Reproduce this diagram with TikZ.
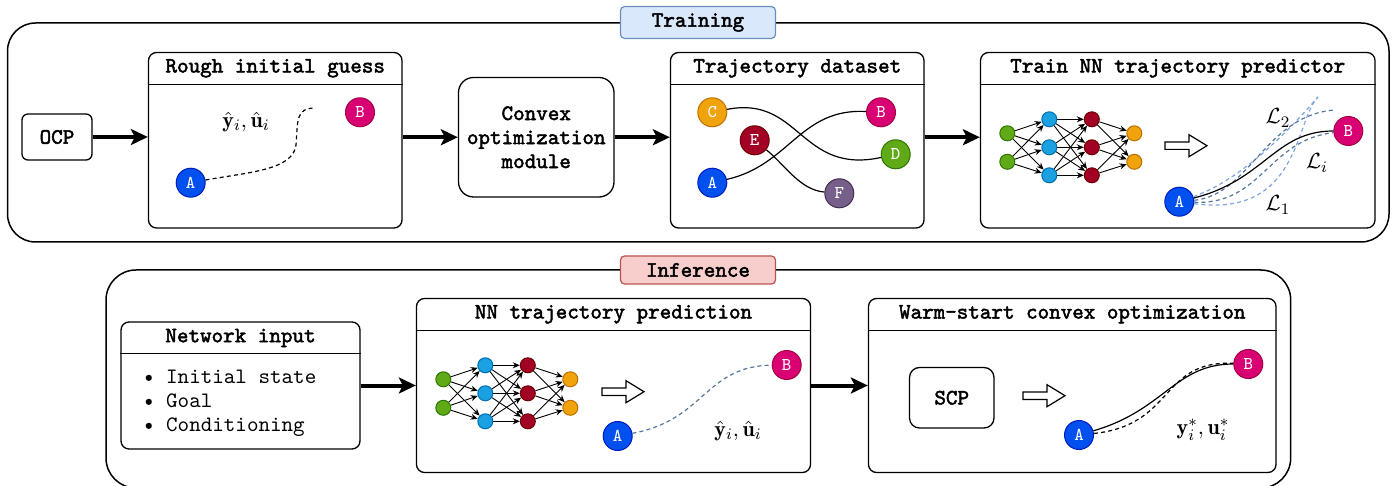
\documentclass[tikz,border=0pt]{standalone}
\usepackage{fontspec}
\setmonofont{Latin Modern Mono}[AutoFakeBold=2.2]
\usetikzlibrary{arrows.meta,fit,positioning}

\definecolor{blueA}{HTML}{0050EF}   \definecolor{blueAd}{HTML}{001DBC}
\definecolor{pinkB}{HTML}{D80073}   \definecolor{pinkBd}{HTML}{A50040}
\definecolor{orangeC}{HTML}{F0A30A} \definecolor{orangeCd}{HTML}{BD7000}
\definecolor{greenD}{HTML}{60A917}  \definecolor{greenDd}{HTML}{2D7600}
\definecolor{redE}{HTML}{A20025}    \definecolor{redEd}{HTML}{6F0000}
\definecolor{purpleF}{HTML}{76608A} \definecolor{purpleFd}{HTML}{432D57}
\definecolor{nnblue}{HTML}{1BA1E2}  \definecolor{nnblued}{HTML}{006EAF}
\definecolor{trainfill}{HTML}{DAE8FC} \definecolor{traindraw}{HTML}{6C8EBF}
\definecolor{inffill}{HTML}{F8CECC}   \definecolor{infdraw}{HTML}{B85450}
\definecolor{darkdash}{HTML}{56759A}  \definecolor{lightdash}{HTML}{7EA6E0}

% small fully connected network, first input node at the origin
\newcommand{\drawnet}[1]{%
  \foreach \j in {1,2} {
    \node[nn, fill=greenD, draw=greenDd] (#1g\j) at (0,{(\j-1)*28.5}) {};
    \node[nn, fill=orangeC, draw=orangeCd] (#1o\j) at (127,{(\j-1)*28.5}) {};
  }
  \foreach \j in {1,2,3} {
    \node[nn, fill=nnblue, draw=nnblued] (#1b\j) at (42,{(\j-1)*28-14}) {};
    \node[nn, fill=redE, draw=redEd] (#1r\j) at (84.5,{(\j-1)*28-14}) {};
  }
  \foreach \a in {1,2} \foreach \b in {1,2,3} {
    \draw[nnarrow] (#1g\a) -- (#1b\b);
    \draw[nnarrow] (#1r\b) -- (#1o\a);
  }
  \foreach \a in {1,2,3} \foreach \b in {1,2,3}
    \draw[nnarrow] (#1b\a) -- (#1r\b);
}

\begin{document}
\begin{tikzpicture}[x=0.5pt,y=-0.5pt,
    every node/.style={font=\ttfamily\fontsize{11}{12}\selectfont},
    title/.style={font=\ttfamily\bfseries\fontsize{11}{12}\selectfont},
    outer/.style={draw, line width=0.75pt, rounded corners=14pt},
    panel/.style={draw, line width=0.65pt, rounded corners=4pt, inner sep=0pt},
    smallbox/.style={panel, title, align=center},
    tag/.style={draw, rounded corners=2pt, line width=0.6pt, minimum width=77.5pt, minimum height=14pt, title},
    bigarrow/.style={line width=2pt, -{Stealth[length=8.5pt,width=8pt,inset=2pt]}},
    pt/.style={circle, draw, line width=0.5pt, minimum size=14.5pt, inner sep=0pt, text=white, font=\ttfamily\fontsize{9}{9}\selectfont},
    nn/.style={circle, draw, line width=0.5pt, minimum size=7.5pt, inner sep=0pt},
    nnarrow/.style={line width=0.45pt, -{Stealth[length=3.5pt,width=3pt]}},
    traj/.style={line width=0.6pt},
    dashtraj/.style={line width=0.6pt, dash pattern=on 2pt off 1.6pt}]

  \useasboundingbox (0,0) rectangle (1398,486);
  \clip (0,0) rectangle (1398,486);

  % ---------------- training ----------------
  \draw[outer] (7.5,23) rectangle (1389,242);
  \node[tag, fill=trainfill, draw=traindraw] (trainingtag) at (698,22.5) {Training};

  \node[smallbox, rounded corners=3pt, fit={(22,114) (92,160)}] (ocp) {};
  \node[title] at (ocp) {OCP};
  \node[panel, fit={(148.5,52.5) (402,228)}] (rough) {};
  \node[smallbox, rounded corners=7.5pt, fit={(458.5,77.5) (614,197)}] (convex) {};
  \node[title, align=center] at (convex) {Convex\\optimization\\module};
  \node[panel, fit={(670.5,52.5) (924,228)}] (dataset) {};
  \node[panel, fit={(980.5,52.5) (1375,228)}] (train) {};

  \draw[bigarrow] (ocp) -- (ocp -| rough.west);
  \draw[bigarrow] (rough.east |- convex) -- (convex);
  \draw[bigarrow] (convex) -- (convex -| dataset.west);
  \draw[bigarrow] (dataset.east |- convex) -- (convex -| train.west);

  % rough initial guess
  \node[pt, fill=blueA, draw=blueAd] (rA) at (190.7,182.7) {A};
  \node[pt, fill=pinkB, draw=pinkBd] (rB) at (360,112.3) {B};
  \coordinate (roughend) at (315,108);
  \draw[dashtraj] (rA) .. controls (250,172) and (293,170) .. (296,145)
    .. controls (298,122) and (295,108) .. (roughend);
  \node at (246,122) {$\hat{\mathbf{y}}_i, \hat{\mathbf{u}}_i$};

  % trajectory dataset
  \node[pt, fill=orangeC, draw=orangeCd] (dC) at (712.3,112.3) {C};
  \node[pt, fill=redE, draw=redEd] (dE) at (754.7,140.3) {E};
  \node[pt, fill=blueA, draw=blueAd] (dA) at (712.3,182.7) {A};
  \node[pt, fill=pinkB, draw=pinkBd] (dB) at (881,112.3) {B};
  \node[pt, fill=greenD, draw=greenDd] (dD) at (895.7,154.3) {D};
  \node[pt, fill=purpleF, draw=purpleFd] (dF) at (839.3,193.3) {F};
  \draw[traj] (dC) .. controls (800,95) and (800,175) .. (dD);
  \draw[traj] (dA) .. controls (790,165) and (800,108) .. (dB);
  \draw[traj] (dE) .. controls (785,165) and (800,190) .. (dF);

  % train NN trajectory predictor
  \begin{scope}[shift={(1007.3,133.3)}]
    \drawnet{t}
  \end{scope}
  \node[pt, fill=blueA, draw=blueAd] (tA) at (1179.3,201.7) {A};
  \node[pt, fill=pinkB, draw=pinkBd] (tB) at (1348.3,131) {B};
  \coordinate (tL1) at (1318,97);
  \coordinate (tL2) at (1335,110);
  \draw[dashtraj, lightdash] (tA) .. controls (1300,218) and (1295,120) .. (tL1);
  \draw[dashtraj, lightdash] (tA) .. controls (1240,180) and (1285,135) .. (tL1);
  \draw[dashtraj, darkdash] (tA) .. controls (1262,205) and (1268,140) .. (tB);
  \draw[dashtraj, darkdash] (tA) .. controls (1250,195) and (1265,115) .. (tL2);
  \draw[traj] (tA) .. controls (1265,180) and (1275,131) .. (tB);
  \node at (1278,118) {$\mathcal{L}_2$};
  \node at (1317,163) {$\mathcal{L}_i$};
  \node at (1278,205) {$\mathcal{L}_1$};

  % ---------------- inference ----------------
  \draw[outer, rounded corners=15pt] (106,270) rectangle (1290.7,488);
  \node[tag, fill=inffill, draw=infdraw] (inferencetag) at (698,270) {Inference};

  \node[panel, fit={(121,322) (360,449)}] (netin) {};
  \node[panel, fit={(416.5,298.5) (810.5,472.5)}] (pred) {};
  \node[panel, fit={(868.5,298.5) (1276,472.5)}] (warm) {};
  \node[smallbox, rounded corners=5pt, fit={(909.5,367.5) (994,428)}] (scp) {};
  \node[title] at (scp) {SCP};

  \draw[bigarrow] (netin) -- (netin -| pred.west);
  \draw[bigarrow] (pred.east |- netin) -- (netin -| warm.west);

  \draw[line width=0.65pt] ([yshift=-16.2pt]netin.north west) -- ([yshift=-16.2pt]netin.north east);
  \node[title] at ([yshift=-8.3pt]netin.north) {Network input};
  \node[anchor=west, align=left] (inputs) at (136,403.5)
    {\textbullet\ Initial state\\\textbullet\ Goal\\\textbullet\ Conditioning};

  % NN trajectory prediction
  \begin{scope}[shift={(443.3,379.3)}]
    \drawnet{p}
  \end{scope}
  \node[pt, fill=blueA, draw=blueAd] (pA) at (617.7,436) {A};
  \node[pt, fill=pinkB, draw=pinkBd] (pB) at (786.7,365) {B};
  \draw[dashtraj, darkdash] (pA) .. controls (705,420) and (705,366) .. (pB);
  \node at (738,431) {$\hat{\mathbf{y}}_i, \hat{\mathbf{u}}_i$};

  % warm-start convex optimization
  \node[pt, fill=blueA, draw=blueAd] (wA) at (1079,435) {A};
  \node[pt, fill=pinkB, draw=pinkBd] (wB) at (1248.3,364) {B};
  \draw[traj] (wA) .. controls (1165,410) and (1175,364) .. (wB);
  \draw[dashtraj] (wA) .. controls (1175,425) and (1160,360) .. (wB);
  \node at (1203,430) {$\mathbf{y}^*_i, \mathbf{u}^*_i$};

  % panel titles
  \foreach \p/\t in {rough/Rough initial guess, dataset/Trajectory dataset,
      train/Train NN trajectory predictor, pred/NN trajectory prediction,
      warm/Warm-start convex optimization} {
    \draw[line width=0.65pt] ([yshift=-16.2pt]\p.north west) -- ([yshift=-16.2pt]\p.north east);
    \node[title] at ([yshift=-8.2pt]\p.north) {\t};
  }

  % hollow arrows
  \foreach \x/\y in {1165/145.7, 602/391.7, 1023/395.7}
    \draw[line width=0.6pt] (\x,{\y-3.7}) -- ++(24,0) -- ++(0,-7.3) -- ++(18,11)
      -- ++(-18,11) -- ++(0,-7.3) -- ++(-24,0) -- cycle;
\end{tikzpicture}
\end{document}
